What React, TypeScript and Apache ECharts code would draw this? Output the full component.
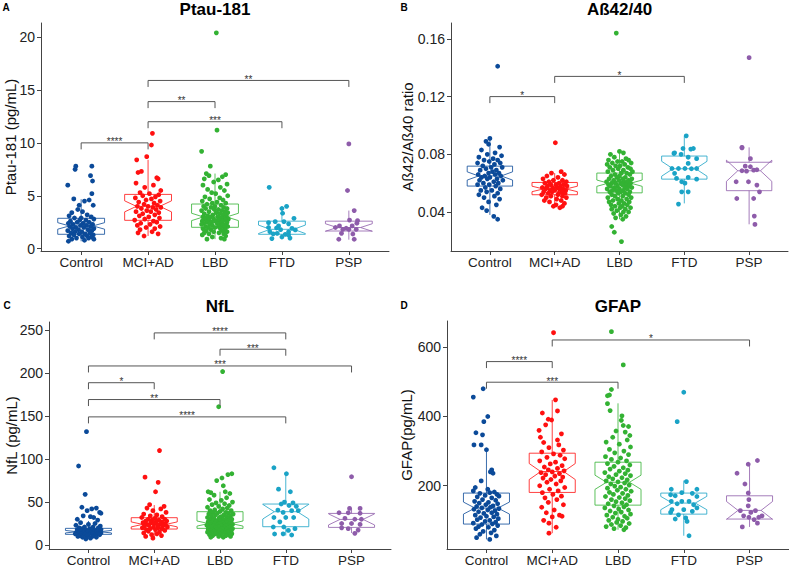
import React, { useEffect, useRef } from "react";
import * as echarts from "echarts";

const CATEGORIES = ["Control", "MCI+AD", "LBD", "FTD", "PSP"];
const COLORS = ["#0B4A99", "#FF1010", "#33B233", "#1AA3C6", "#8E5CAA"];
const FONT = "Liberation Sans, Arial, Helvetica, sans-serif";

// ---------- Panel A : Ptau-181 ----------
const PTAU_TICKS = [0, 5, 10, 15, 20];
// [q1, median, q3, whiskerLow, whiskerHigh]
const PTAU_BOX = [
  [1.36, 2.15, 2.87, 0.7, 4.67],
  [2.68, 4.0, 5.13, 1.2, 8.4],
  [2.02, 3.0, 4.22, 0.9, 7.1],
  [1.36, 1.83, 2.6, 0.9, 4.0],
  [1.67, 2.0, 2.6, 0.85, 3.6],
];
const PTAU_CONTROL = [[-0.08,7.8],[0.16,7.8],[-0.09,7.5],[0.14,6.9],[0.17,6.4],[-0.2,6.0],[0.16,5.2],[-0.11,4.7],[0.12,4.6],[0.05,4.5],[-0.03,4.1],[0.18,4.1],[-0.05,3.7],[0.02,3.5],[-0.14,3.4],[0.09,3.2],[-0.18,3.1],[0.15,3.0],[0.0,2.9],[-0.1,2.9],[0.19,2.8],[-0.02,2.7],[0.07,2.7],[-0.16,2.6],[0.12,2.5],[-0.06,2.5],[0.03,2.4],[-0.19,2.4],[0.17,2.3],[-0.12,2.3],[0.08,2.2],[-0.01,2.2],[0.14,2.1],[-0.17,2.1],[0.04,2.0],[-0.08,2.0],[0.19,1.9],[-0.13,1.9],[0.1,1.8],[-0.04,1.8],[0.16,1.7],[-0.2,1.7],[0.01,1.6],[-0.09,1.6],[0.13,1.5],[-0.15,1.5],[0.06,1.4],[-0.03,1.4],[0.18,1.3],[-0.11,1.3],[0.09,1.2],[-0.18,1.2],[0.02,1.1],[0.15,1.1],[-0.07,1.0],[0.11,1.0],[-0.14,0.9],[0.19,0.9],[0.05,0.8],[-0.19,0.7]];
const PTAU_MCI = [[0.065,10.9],[0.05,9.8],[-0.02,8.7],[-0.17,8.4],[-0.1,7.3],[-0.15,7.2],[0.13,6.7],[0.15,6.6],[-0.18,6.2],[0.08,6.0],[-0.05,5.8],[0.19,5.5],[-0.12,5.3],[0.02,5.2],[0.16,5.1],[-0.08,5.0],[0.11,4.9],[-0.19,4.8],[0.05,4.7],[-0.03,4.6],[0.18,4.5],[-0.14,4.4],[0.09,4.3],[-0.06,4.2],[0.14,4.1],[0.0,4.0],[-0.16,4.0],[0.07,3.9],[0.19,3.9],[-0.1,3.8],[0.12,3.7],[-0.02,3.6],[-0.18,3.5],[0.04,3.5],[0.16,3.4],[-0.08,3.3],[0.1,3.2],[-0.13,3.1],[0.01,3.0],[0.17,2.9],[-0.05,2.8],[-0.2,2.7],[0.08,2.6],[0.13,2.5],[-0.11,2.4],[0.03,2.3],[-0.16,2.2],[0.18,2.1],[-0.03,2.0],[0.1,1.9],[-0.12,1.8],[0.06,1.6],[-0.15,1.5],[0.15,1.4],[-0.06,1.2]];
const PTAU_LBD = [[0.02,20.4],[0.03,11.2],[-0.2,9.2],[-0.07,7.8],[-0.13,7.1],[0.16,7.0],[-0.09,6.9],[0.11,6.8],[-0.16,6.6],[0.05,6.5],[-0.02,6.3],[0.18,6.1],[-0.18,6.0],[0.08,5.8],[-0.11,5.6],[0.14,5.5],[-0.05,5.3],[0.01,5.2],[0.19,5.0],[-0.15,4.9],[0.07,4.8],[-0.08,4.7],[0.12,4.6],[-0.19,4.5],[0.03,4.4],[-0.04,4.3],[0.16,4.3],[-0.12,4.2],[0.09,4.1],[-0.17,4.0],[0.0,4.0],[0.13,3.9],[-0.06,3.9],[0.18,3.8],[-0.14,3.8],[0.05,3.7],[-0.01,3.7],[0.1,3.6],[-0.2,3.6],[0.15,3.5],[-0.09,3.5],[0.02,3.4],[0.19,3.4],[-0.16,3.3],[0.07,3.3],[-0.03,3.2],[0.12,3.2],[-0.11,3.1],[0.17,3.1],[-0.18,3.0],[0.04,3.0],[-0.07,3.0],[0.14,2.9],[-0.13,2.9],[0.09,2.9],[-0.02,2.8],[0.2,2.8],[-0.15,2.8],[0.06,2.7],[-0.09,2.7],[0.16,2.7],[-0.19,2.6],[0.01,2.6],[0.11,2.6],[-0.05,2.5],[0.18,2.5],[-0.12,2.5],[0.08,2.4],[-0.17,2.4],[0.03,2.4],[0.13,2.3],[-0.08,2.3],[-0.2,2.3],[0.1,2.2],[-0.04,2.2],[0.17,2.2],[-0.14,2.1],[0.05,2.1],[0.19,2.1],[-0.1,2.0],[0.0,2.0],[0.14,2.0],[-0.18,1.9],[0.08,1.9],[-0.06,1.8],[0.15,1.8],[-0.13,1.7],[0.11,1.7],[-0.02,1.6],[0.18,1.6],[-0.16,1.5],[0.06,1.5],[-0.09,1.4],[0.13,1.4],[-0.19,1.3],[0.16,1.2],[-0.04,1.1],[0.09,1.0],[-0.12,0.9],[0.14,0.9]];
const PTAU_FTD = [[-0.19,5.8],[0.07,4.0],[0.0,3.8],[0.01,3.35],[0.18,2.87],[-0.2,2.46],[-0.1,2.55],[0.03,2.55],[0.1,2.35],[-0.05,2.15],[0.15,1.92],[0.2,1.77],[-0.02,1.8],[-0.18,1.6],[-0.07,1.45],[-0.13,1.4],[0.05,1.35],[0.1,1.3],[0.0,1.1],[-0.2,2.0],[0.1,1.6],[-0.08,1.95],[0.12,1.0],[-0.15,0.95]];
const PTAU_PSP = [[0.0,9.9],[-0.02,5.5],[0.08,3.6],[0.01,2.7],[0.13,2.65],[0.12,2.4],[-0.14,2.15],[0.05,2.15],[-0.04,1.93],[-0.2,2.0],[-0.09,1.83],[0.0,1.83],[0.11,1.83],[-0.11,1.45],[0.06,1.39],[0.08,0.89],[-0.15,0.89]];
// [fromCategory, toCategory, y, label]
const PTAU_BRACKETS = [[1, 2, 10.0, "****"], [2, 4, 12.0, "***"], [2, 3, 13.9, "**"], [2, 5, 15.9, "**"]];

// ---------- Panel B : Aß42/40 ----------
const AB_TICKS = [0.04, 0.08, 0.12, 0.16];
const AB_BOX = [
  [0.058, 0.065, 0.0718, 0.038, 0.091],
  [0.052, 0.056, 0.0605, 0.0437, 0.067],
  [0.0533, 0.06, 0.067, 0.035, 0.082],
  [0.0628, 0.07, 0.0788, 0.046, 0.0928],
  [0.0548, 0.0686, 0.0745, 0.0315, 0.0848],
];
const AB_CONTROL = [[0.12,0.141],[0.0,0.091],[-0.06,0.089],[-0.02,0.087],[0.15,0.085],[-0.13,0.083],[0.08,0.081],[-0.04,0.080],[0.18,0.079],[-0.17,0.078],[0.05,0.077],[-0.09,0.076],[0.12,0.076],[-0.01,0.075],[0.16,0.074],[-0.19,0.074],[0.07,0.073],[-0.11,0.072],[0.02,0.071],[0.19,0.071],[-0.06,0.070],[0.1,0.069],[-0.15,0.069],[0.04,0.068],[-0.02,0.067],[0.14,0.067],[-0.18,0.066],[0.08,0.066],[-0.08,0.065],[0.17,0.065],[0.0,0.064],[-0.13,0.064],[0.11,0.063],[-0.04,0.063],[0.2,0.062],[-0.16,0.062],[0.06,0.061],[-0.1,0.060],[0.13,0.060],[-0.01,0.059],[-0.19,0.059],[0.09,0.058],[-0.07,0.057],[0.16,0.056],[-0.14,0.055],[0.03,0.055],[-0.05,0.054],[0.12,0.053],[-0.17,0.052],[0.07,0.051],[-0.09,0.050],[0.15,0.049],[-0.02,0.047],[0.1,0.045],[-0.12,0.043],[-0.05,0.041],[0.06,0.037],[0.12,0.035]];
const AB_MCI = [[0.01,0.088],[0.1,0.068],[-0.05,0.067],[0.15,0.066],[-0.12,0.065],[0.05,0.064],[-0.18,0.063],[0.12,0.062],[-0.02,0.062],[0.18,0.061],[-0.09,0.061],[0.07,0.060],[-0.15,0.060],[0.02,0.059],[0.14,0.059],[-0.06,0.059],[0.19,0.058],[-0.11,0.058],[0.09,0.058],[-0.19,0.057],[0.04,0.057],[-0.03,0.057],[0.13,0.056],[-0.14,0.056],[0.07,0.056],[-0.07,0.055],[0.17,0.055],[0.0,0.055],[-0.17,0.054],[0.11,0.054],[-0.04,0.054],[0.16,0.053],[-0.1,0.053],[0.05,0.052],[-0.2,0.052],[0.12,0.051],[-0.06,0.051],[0.18,0.050],[-0.13,0.050],[0.03,0.049],[0.1,0.048],[-0.08,0.047],[0.15,0.046],[0.02,0.045],[-0.02,0.044],[0.08,0.043],[0.12,0.044],[-0.16,0.048],[0.06,0.053],[-0.12,0.057]];
const AB_LBD = [[-0.05,0.164],[0.0,0.082],[0.06,0.081],[-0.14,0.080],[-0.08,0.078],[0.1,0.077],[-0.17,0.076],[0.14,0.076],[-0.03,0.075],[0.04,0.075],[-0.11,0.074],[0.18,0.074],[0.08,0.073],[-0.19,0.073],[0.01,0.072],[-0.06,0.072],[0.13,0.071],[-0.15,0.071],[0.17,0.070],[-0.02,0.070],[0.06,0.069],[-0.1,0.069],[0.2,0.068],[-0.18,0.068],[0.03,0.067],[0.11,0.067],[-0.07,0.066],[0.16,0.066],[-0.13,0.065],[0.0,0.065],[0.09,0.064],[-0.04,0.064],[0.19,0.063],[-0.16,0.063],[0.05,0.063],[-0.09,0.062],[0.14,0.062],[-0.01,0.062],[-0.2,0.061],[0.07,0.061],[0.12,0.061],[-0.12,0.060],[0.02,0.060],[0.17,0.060],[-0.06,0.060],[0.1,0.059],[-0.17,0.059],[0.04,0.059],[-0.03,0.058],[0.15,0.058],[-0.14,0.058],[0.08,0.057],[-0.08,0.057],[0.19,0.057],[0.0,0.056],[-0.19,0.056],[0.12,0.056],[-0.05,0.055],[0.06,0.055],[-0.11,0.055],[0.16,0.054],[0.02,0.054],[-0.15,0.054],[0.09,0.053],[-0.02,0.053],[0.14,0.052],[-0.12,0.052],[0.05,0.051],[-0.07,0.051],[0.18,0.050],[-0.18,0.050],[0.11,0.049],[-0.03,0.049],[0.03,0.048],[-0.1,0.048],[0.15,0.047],[-0.16,0.047],[0.07,0.046],[-0.01,0.046],[0.12,0.045],[-0.13,0.045],[0.04,0.044],[-0.07,0.044],[0.17,0.043],[0.01,0.043],[-0.12,0.042],[0.09,0.042],[-0.04,0.041],[0.06,0.040],[0.14,0.040],[-0.09,0.039],[0.02,0.038],[0.1,0.037],[-0.06,0.036],[0.05,0.035],[-0.12,0.030],[-0.08,0.026],[0.03,0.0195]];
const AB_FTD = [[0.03,0.0928],[-0.02,0.084],[0.14,0.084],[0.1,0.0836],[-0.16,0.0806],[-0.15,0.081],[-0.05,0.080],[0.06,0.078],[0.19,0.077],[0.06,0.0737],[-0.19,0.0702],[-0.09,0.0702],[0.01,0.0702],[0.11,0.070],[0.19,0.0702],[-0.15,0.0668],[-0.12,0.0633],[0.06,0.064],[0.19,0.0628],[-0.04,0.061],[0.01,0.060],[-0.04,0.054],[0.06,0.054],[-0.09,0.0455]];
const AB_PSP = [[0.0,0.147],[-0.11,0.0848],[-0.11,0.0845],[0.02,0.077],[-0.06,0.0718],[0.02,0.0714],[-0.11,0.0686],[-0.04,0.0683],[0.07,0.069],[0.12,0.0693],[-0.2,0.061],[-0.01,0.061],[0.12,0.0587],[0.16,0.054],[-0.19,0.0494],[0.07,0.0494],[0.08,0.0372],[0.09,0.0314]];
const AB_BRACKETS = [[1, 2, 0.12, "*"], [2, 4, 0.134, "*"]];

// ---------- Panel C : NfL ----------
const NFL_TICKS = [0, 50, 100, 150, 200, 250];
const NFL_BOX = [
  [12.4, 15.5, 19.4, 7, 28],
  [18.6, 24, 31.8, 8, 46.5],
  [19.4, 25, 38.8, 9, 62],
  [21.3, 38.8, 47.7, 11, 84],
  [20.5, 29.8, 36.8, 14, 43],
];
const NFL_CONTROL = [[-0.03,132],[-0.15,92],[-0.05,59],[-0.1,44],[0.12,43],[0.05,42],[-0.02,40],[0.17,38],[0.19,37],[-0.08,34],[0.03,33],[0.08,32],[-0.17,30],[0.14,29],[-0.12,26],[0.1,25],[0.0,24],[-0.19,23],[0.18,22],[-0.06,21],[0.07,21],[-0.14,20],[0.15,20],[0.02,19],[-0.09,19],[0.19,18],[-0.17,18],[0.05,18],[-0.03,17],[0.11,17],[-0.12,17],[0.16,16],[-0.07,16],[0.01,16],[-0.18,15],[0.09,15],[-0.01,15],[0.13,15],[-0.15,14],[0.04,14],[-0.08,14],[0.19,14],[-0.11,13],[0.07,13],[-0.2,13],[0.14,13],[0.0,12],[-0.05,12],[0.17,12],[-0.13,11],[0.1,11],[-0.02,11],[0.06,10],[-0.16,10],[0.12,9],[-0.09,9],[0.03,8],[-0.04,7]];
const NFL_MCI = [[0.08,110],[-0.14,79],[0.06,73],[0.02,62],[-0.07,47],[0.15,45],[-0.11,43],[0.1,42],[-0.02,40],[0.18,38],[-0.16,36],[0.04,35],[-0.06,34],[0.12,33],[-0.19,32],[0.01,31],[0.16,30],[-0.09,30],[0.07,29],[-0.03,29],[0.19,28],[-0.13,28],[0.03,27],[0.11,27],[-0.17,26],[-0.05,26],[0.14,25],[0.0,25],[-0.11,24],[0.09,24],[0.17,24],[-0.08,23],[0.05,23],[-0.15,22],[0.13,22],[-0.01,21],[0.2,21],[-0.18,20],[0.06,20],[-0.06,19],[0.12,19],[-0.12,18],[0.02,18],[0.16,17],[-0.09,16],[0.08,15],[-0.16,14],[0.04,13],[-0.04,12],[0.11,11],[-0.13,10],[-0.02,8]];
const NFL_LBD = [[0.04,202],[-0.02,161],[0.18,83],[0.12,82],[0.03,78],[-0.05,75],[0.05,69],[-0.18,62],[-0.14,61],[0.08,62],[0.15,60],[-0.09,58],[0.1,55],[-0.16,53],[0.02,52],[0.19,50],[-0.06,49],[0.07,48],[-0.12,47],[0.14,46],[-0.02,45],[-0.19,44],[0.11,43],[0.04,42],[-0.08,41],[0.17,40],[-0.15,40],[0.0,39],[0.09,38],[-0.11,38],[0.13,37],[-0.04,37],[0.2,36],[-0.17,36],[0.06,35],[-0.07,35],[0.16,34],[-0.13,34],[0.02,33],[0.1,33],[-0.01,32],[-0.19,32],[0.14,31],[-0.09,31],[0.05,30],[0.18,30],[-0.15,30],[-0.03,29],[0.08,29],[-0.11,28],[0.12,28],[0.0,28],[-0.18,27],[0.17,27],[-0.06,27],[0.04,26],[0.1,26],[-0.13,26],[-0.01,25],[0.15,25],[-0.08,25],[0.19,24],[-0.16,24],[0.07,24],[-0.04,23],[0.12,23],[-0.2,23],[0.02,22],[0.09,22],[-0.1,22],[0.16,21],[-0.14,21],[-0.02,21],[0.06,20],[-0.07,20],[0.13,20],[-0.18,19],[0.03,19],[0.19,19],[-0.11,18],[0.1,18],[-0.05,18],[0.15,17],[-0.15,17],[0.0,17],[0.08,16],[-0.09,16],[0.17,16],[-0.19,15],[0.04,15],[0.12,15],[-0.03,14],[-0.13,14],[0.07,14],[0.18,13],[-0.07,13],[0.01,12],[-0.16,12],[0.14,12],[0.09,11],[-0.11,11],[-0.02,10],[0.16,10],[0.05,9],[-0.14,9]];
const NFL_FTD = [[-0.18,90],[0.01,83],[-0.11,65],[0.07,62],[-0.02,50],[0.11,49],[-0.07,47.7],[0.05,46],[0.16,45],[-0.12,40.7],[0.09,40],[0.19,40],[-0.04,38],[-0.18,32],[0.0,32],[0.12,32],[-0.09,27],[-0.19,21],[-0.03,21],[0.04,17],[0.14,19],[-0.17,12.8],[0.09,11.6],[-0.04,13]];
const NFL_PSP = [[0.0,79.5],[-0.03,42.6],[0.13,42.6],[-0.19,37.6],[-0.05,37.6],[0.13,37],[-0.1,31],[0.05,30],[0.15,30],[-0.15,25],[0.0,25],[0.13,24],[-0.05,19],[0.1,17.4],[0.05,13.6],[-0.15,20]];
const NFL_BRACKETS = [[2, 4, 247, "****"], [3, 4, 228, "***"], [1, 5, 208.5, "***"], [1, 2, 189, "*"], [1, 3, 169.4, "**"], [1, 4, 149.2, "****"]];

// ---------- Panel D : GFAP ----------
const GFAP_TICKS = [200, 400, 600];
const GFAP_BOX = [
  [89.3, 135.5, 178.8, 45, 304],
  [180.7, 241, 294, 63, 448],
  [144, 210, 268, 73, 438],
  [118, 150, 178.8, 55.7, 215],
  [103.8, 128.8, 171, 81, 262],
];
const GFAP_CONTROL = [[-0.05,480],[-0.2,456],[0.02,400],[-0.04,385],[-0.16,353],[-0.06,347],[-0.19,318],[-0.08,318],[0.0,304],[0.08,246],[0.06,240],[0.1,236],[-0.08,214],[-0.17,195],[0.02,190],[-0.2,185],[0.12,182],[0.05,180],[-0.1,178],[0.16,175],[-0.02,172],[0.19,170],[-0.14,168],[0.08,165],[-0.06,160],[0.14,158],[-0.18,155],[0.03,152],[-0.11,150],[0.17,148],[-0.01,145],[0.1,142],[-0.15,140],[0.06,138],[-0.07,136],[0.19,134],[-0.19,132],[0.02,130],[0.13,128],[-0.12,125],[0.08,122],[-0.04,120],[0.16,118],[-0.17,115],[0.0,112],[0.11,110],[-0.09,108],[0.18,105],[-0.14,102],[0.05,100],[-0.02,97],[0.14,95],[-0.2,92],[0.09,90],[-0.07,88],[0.17,85],[-0.12,82],[0.03,80],[-0.16,76],[0.12,72],[-0.05,68],[0.07,64],[-0.1,60],[0.15,55],[-0.15,50],[0.05,45]];
const GFAP_MCI = [[0.02,642],[0.05,448],[0.08,416],[-0.15,410],[-0.06,392],[-0.01,390],[-0.1,376],[-0.2,360],[0.14,350],[-0.18,340],[0.08,332],[-0.13,325],[0.1,318],[-0.05,310],[0.17,303],[-0.16,298],[0.02,292],[0.12,288],[-0.08,282],[0.19,278],[-0.19,272],[0.05,268],[-0.03,263],[0.15,258],[-0.12,254],[0.08,250],[-0.06,246],[0.18,243],[0.0,240],[-0.17,238],[0.11,235],[-0.1,232],[0.04,228],[0.16,225],[-0.14,222],[-0.02,218],[0.13,214],[-0.08,210],[0.06,205],[-0.19,200],[0.19,195],[-0.04,190],[0.09,185],[-0.15,180],[0.01,175],[0.14,170],[-0.11,165],[0.07,160],[-0.06,152],[0.17,145],[-0.16,138],[0.03,130],[-0.09,122],[0.11,115],[0.15,112],[0.0,110],[-0.13,100],[-0.05,92],[0.06,80],[-0.05,63]];
const GFAP_LBD = [[-0.1,645],[0.08,549],[-0.1,478],[-0.13,462],[-0.16,460],[-0.16,437],[-0.12,417],[0.06,402],[0.05,389],[0.08,374],[0.16,371],[-0.03,358],[0.11,355],[0.18,345],[-0.08,340],[0.14,332],[-0.18,326],[0.02,320],[0.19,312],[-0.13,305],[0.09,300],[-0.05,295],[0.16,290],[-0.19,284],[0.04,280],[-0.1,276],[0.13,272],[0.0,268],[-0.16,264],[0.18,260],[-0.06,256],[0.08,252],[-0.12,248],[0.15,245],[0.02,242],[-0.2,238],[0.11,235],[-0.03,232],[0.19,229],[-0.14,226],[0.06,223],[-0.08,220],[0.14,217],[-0.18,214],[0.0,211],[0.1,208],[-0.11,205],[0.17,202],[-0.05,199],[0.04,196],[-0.16,193],[0.12,190],[-0.01,187],[0.2,184],[-0.13,181],[0.07,178],[-0.07,175],[0.15,172],[-0.19,169],[0.02,166],[0.11,163],[-0.1,160],[0.18,157],[-0.03,154],[0.06,151],[-0.15,148],[0.13,145],[-0.06,142],[0.09,139],[-0.2,136],[0.01,133],[0.16,130],[-0.12,127],[0.05,124],[-0.04,121],[0.19,118],[-0.17,115],[0.1,112],[-0.08,109],[0.14,106],[0.0,103],[-0.14,100],[0.07,97],[-0.02,94],[0.17,91],[-0.1,88],[0.04,85],[-0.18,82],[0.12,79],[-0.06,76],[0.09,73]];
const GFAP_FTD = [[0.0,470],[-0.1,385],[0.04,212],[0.2,190],[-0.19,190],[-0.03,180],[0.13,178],[-0.2,174],[-0.13,171],[0.2,169],[-0.03,155],[0.08,155],[-0.19,155],[-0.1,148],[0.15,145],[0.2,136],[-0.18,131],[0.0,131],[0.13,126],[-0.2,123],[-0.08,116],[-0.13,104],[0.03,107],[0.05,97],[0.08,55.7]];
const GFAP_PSP = [[0.12,273],[-0.02,262],[-0.19,236],[-0.07,205],[-0.02,179],[-0.01,160],[-0.02,142],[-0.14,128],[0.09,128],[0.02,123],[0.19,113],[-0.09,113],[-0.01,109],[0.14,109],[0.07,102],[0.12,92],[-0.11,81]];
const GFAP_BRACKETS = [[2, 5, 621, "*"], [1, 2, 558.6, "****"], [1, 3, 499, "***"]];

// ---------- layout ----------
const BOX_WIDTH = 0.7;
const PANELS = [
  { letter: "A", title: "Ptau-181", yName: "Ptau-181 (pg/mL)", grid: { left: 41, top: 23, width: 348, height: 228 }, yMin: -0.22, yMax: 21.33, ticks: PTAU_TICKS, dec: 0, box: PTAU_BOX, groups: [PTAU_CONTROL, PTAU_MCI, PTAU_LBD, PTAU_FTD, PTAU_PSP], brackets: PTAU_BRACKETS, letterXY: [6, 7], titleY: 9, yNameX: 10 },
  { letter: "B", title: "Aß42/40", yName: "Aß42/Aß40 ratio", grid: { left: 451, top: 23, width: 337, height: 228 }, yMin: 0.013, yMax: 0.171, ticks: AB_TICKS, dec: 2, box: AB_BOX, groups: [AB_CONTROL, AB_MCI, AB_LBD, AB_FTD, AB_PSP], brackets: AB_BRACKETS, letterXY: [404, 7], titleY: 9, yNameX: 407 },
  { letter: "C", title: "NfL", yName: "NfL (pg/mL)", grid: { left: 49, top: 322, width: 342, height: 227 }, yMin: -4.65, yMax: 259.7, ticks: NFL_TICKS, dec: 0, box: NFL_BOX, groups: [NFL_CONTROL, NFL_MCI, NFL_LBD, NFL_FTD, NFL_PSP], brackets: NFL_BRACKETS, letterXY: [7, 305], titleY: 306, yNameX: 11 },
  { letter: "D", title: "GFAP", yName: "GFAP(pg/mL)", grid: { left: 447, top: 321, width: 342, height: 228 }, yMin: 17.3, yMax: 675.8, ticks: GFAP_TICKS, dec: 0, box: GFAP_BOX, groups: [GFAP_CONTROL, GFAP_MCI, GFAP_LBD, GFAP_FTD, GFAP_PSP], brackets: GFAP_BRACKETS, letterXY: [404, 305], titleY: 306, yNameX: 406 },
];

function buildOption() {
  const grids: any[] = [];
  const xAxes: any[] = [];
  const yAxes: any[] = [];
  const series: any[] = [];
  const graphics: any[] = [];
  const catVals = [1, 2, 3, 4, 5];

  PANELS.forEach((p, i) => {
    grids.push({ ...p.grid, containLabel: false });
    xAxes.push({
      type: "value", gridIndex: i, min: 0.4, max: 5.6,
      axisLine: { show: true, onZero: false, lineStyle: { color: "#444", width: 1 } },
      axisTick: { show: true, customValues: catVals, length: 4, lineStyle: { color: "#444" } },
      axisLabel: { customValues: catVals, formatter: (v: number) => CATEGORIES[Math.round(v) - 1] || "", color: "#222", fontSize: 13.5, margin: 4, fontFamily: FONT },
      splitLine: { show: false },
    });
    yAxes.push({
      type: "value", gridIndex: i, min: p.yMin, max: p.yMax,
      axisLine: { show: true, onZero: false, lineStyle: { color: "#444", width: 1 } },
      axisTick: { show: true, customValues: p.ticks, length: 4, lineStyle: { color: "#444" } },
      axisLabel: { customValues: p.ticks, formatter: (v: number) => v.toFixed(p.dec), color: "#222", fontSize: 14, margin: 6, fontFamily: FONT },
      splitLine: { show: false },
    });

    // notched boxes
    series.push({
      type: "custom", xAxisIndex: i, yAxisIndex: i, silent: true, clip: false, z: 2,
      data: p.box.map((b, c) => [c + 1, b[0], b[1], b[2], b[3], b[4], p.groups[c].length, c]),
      renderItem: (params: any, api: any) => {
        const cat = api.value(0), q1 = api.value(1), med = api.value(2), q3 = api.value(3);
        const lo = api.value(4), hi = api.value(5), n = api.value(6), ci = api.value(7);
        const nd = (1.58 * (q3 - q1)) / Math.sqrt(n);
        const nl = med - nd, nu = med + nd;
        const xl = cat - BOX_WIDTH / 2, xr = cat + BOX_WIDTH / 2, ind = BOX_WIDTH * 0.25;
        const P = (x: number, y: number) => api.coord([x, y]);
        const color = COLORS[ci];
        const st = { stroke: color, lineWidth: 1, fill: "none", opacity: 0.8 };
        const pts = [P(xl, q3), P(xl, nu), P(xl + ind, med), P(xl, nl), P(xl, q1), P(xr, q1), P(xr, nl), P(xr - ind, med), P(xr, nu), P(xr, q3)];
        const m1 = P(xl + ind, med), m2 = P(xr - ind, med);
        const w1 = P(cat, q3), w2 = P(cat, hi), w3 = P(cat, q1), w4 = P(cat, lo);
        return {
          type: "group",
          children: [
            { type: "polygon", shape: { points: pts }, style: st },
            { type: "line", shape: { x1: m1[0], y1: m1[1], x2: m2[0], y2: m2[1] }, style: st },
            { type: "line", shape: { x1: w1[0], y1: w1[1], x2: w2[0], y2: w2[1] }, style: st },
            { type: "line", shape: { x1: w3[0], y1: w3[1], x2: w4[0], y2: w4[1] }, style: st },
          ],
        };
      },
    });

    // jittered points
    p.groups.forEach((g, c) => {
      series.push({
        type: "scatter", xAxisIndex: i, yAxisIndex: i, silent: true, z: 3,
        symbol: "circle", symbolSize: 4.8,
        itemStyle: { color: COLORS[c], opacity: 1 },
        data: g.map((d) => [c + 1 + d[0], d[1]]),
      });
    });

    // significance brackets
    const br = p.brackets;
    series.push({
      type: "custom", xAxisIndex: i, yAxisIndex: i, silent: true, clip: false, z: 4,
      data: br.map((b) => [b[0], b[2]]),
      renderItem: (params: any, api: any) => {
        const b = br[params.dataIndex];
        const a = api.coord([b[0], b[2]]);
        const e = api.coord([b[1], b[2]]);
        const leg = 6.5;
        return {
          type: "group",
          children: [
            { type: "polyline", shape: { points: [[a[0], a[1] + leg], [a[0], a[1]], [e[0], a[1]], [e[0], a[1] + leg]] }, style: { stroke: "#555", lineWidth: 1, fill: "none" } },
            { type: "text", x: (a[0] + e[0]) / 2, y: a[1] + 4, style: { text: b[3], fill: "#333", fontSize: 10, fontFamily: FONT, align: "center", verticalAlign: "bottom" } },
          ],
        };
      },
    });

    const cx = p.grid.left + p.grid.width / 2;
    const cy = p.grid.top + p.grid.height / 2;
    graphics.push(
      { type: "text", x: cx, y: p.titleY, style: { text: p.title, fill: "#000", fontSize: 17, fontWeight: "bold", fontFamily: FONT, align: "center", verticalAlign: "middle" } },
      { type: "text", x: p.letterXY[0], y: p.letterXY[1], style: { text: p.letter, fill: "#000", fontSize: 10, fontWeight: "bold", fontFamily: FONT, align: "center", verticalAlign: "middle" } },
      { type: "text", x: p.yNameX, y: cy, rotation: Math.PI / 2, style: { text: p.yName, fill: "#111", fontSize: 15, fontFamily: FONT, align: "center", verticalAlign: "middle" } },
    );
  });

  return {
    animation: false,
    backgroundColor: "#ffffff",
    grid: grids,
    xAxis: xAxes,
    yAxis: yAxes,
    series,
    graphic: graphics,
  };
}

export default function App() {
  const ref = useRef<HTMLDivElement>(null);
  useEffect(() => {
    if (!ref.current) return;
    const chart = echarts.init(ref.current, undefined, { renderer: "svg" });
    chart.setOption(buildOption() as any);
    return () => chart.dispose();
  }, []);
  return <div ref={ref} style={{ position: "fixed", left: 0, top: 0, width: 789, height: 567, background: "#fff" }} />;
}
